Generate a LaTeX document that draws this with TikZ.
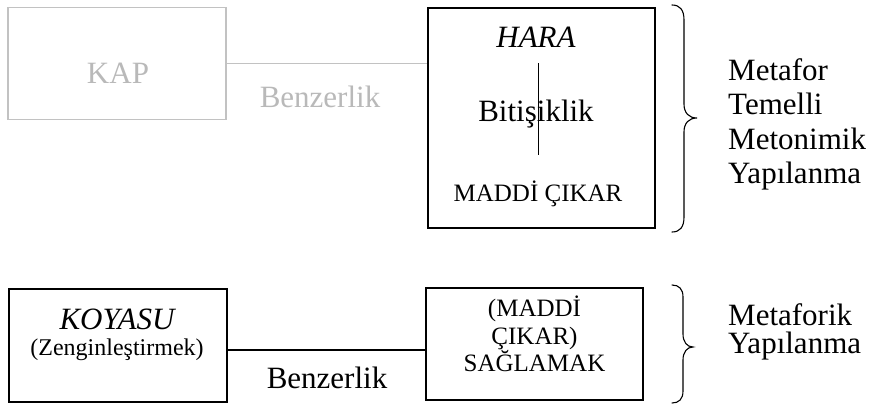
\documentclass[tikz,border=0pt]{standalone}
\usepackage{fontspec}
\setmainfont{Liberation Serif}
\begin{document}
\begin{tikzpicture}[x=1pt,y=-1pt,
  box/.style={draw=black,line width=1.1pt,inner sep=0pt,minimum width=#1},
  faint/.style={draw=gray!48,line width=1.1pt},
  big/.style={font=\fontsize{31}{35.6}\selectfont,inner sep=0pt,anchor=base},
  small/.style={font=\fontsize{25}{28.8}\selectfont,inner sep=0pt,anchor=base},
  side/.style={font=\fontsize{31}{35.6}\selectfont,inner sep=0pt,anchor=base west},
  brace/.style={draw=black,line width=1.1pt,line cap=round}]
\useasboundingbox (0,0) rectangle (873,405);

% --- upper row: KAP (faded) and HARA ---
\node[box=218pt,faint,minimum height=112pt] (kap) at (117,63.5) {};
\node[big,text=gray!55] (kaptxt) at (118,83) {KAP};
\node[box=227pt,minimum height=220pt] (hara) at (541.5,118) {};
\draw[faint] (kap.east) -- (kap.east -| hara.west);
\node[big,text=gray!55] (benz1) at (320,107) {Benzerlik};
\node[big,font=\fontsize{31}{35.6}\selectfont\itshape] (haratxt) at (536,47) {HARA};
\node[big] (bitis) at (536,121) {Bitişiklik};
\node[small] (maddi) at (538,201) {MADDİ ÇIKAR};
\coordinate (cutT) at (538.5,63);
\coordinate (cutB) at (538.5,155);
\draw[line width=1.1pt] (cutT) -- (cutB);

% brace and label of the upper row
\draw[brace] (672,5) .. controls (680,5) and (684,10) .. (684,20)
  -- (684,104) .. controls (684,113) and (689,118) .. (697,118)
  .. controls (689,118) and (684,123) .. (684,132)
  -- (684,217) .. controls (684,227) and (680,232) .. (672,232);
\node[side] (l1) at (728,80) {Metafor};
\node[side] (l2) at (728,114.5) {Temelli};
\node[side] (l3) at (728,149) {Metonimik};
\node[side] (l4) at (728,183.5) {Yapılanma};

% --- lower row: KOYASU and (MADDİ ÇIKAR) SAĞLAMAK ---
\node[box=218pt,minimum height=113pt] (koyasu) at (118,345.5) {};
\node[big,font=\fontsize{31}{35.6}\selectfont\itshape] (koytxt) at (117,329) {KOYASU};
\node[small,font=\fontsize{24}{27.6}\selectfont] (zeng) at (117,355) {(Zenginleştirmek)};
\node[box=217pt,minimum height=112pt] (sagla) at (534.5,344) {};
\node[small] (s1) at (534.5,316) {(MADDİ};
\node[small] (s2) at (534.5,344) {ÇIKAR)};
\node[small] (s3) at (534.5,371) {SAĞLAMAK};
\draw[line width=1.1pt] ([yshift=-4.5pt]koyasu.east) -- ([yshift=-4.5pt]koyasu.east -| sagla.west);
\node[big] (benz2) at (327,388) {Benzerlik};

% brace and label of the lower row
\draw[brace] (672,285) .. controls (679,285) and (683,289) .. (683,297)
  -- (683,334) .. controls (683,342) and (687,347) .. (693,347)
  .. controls (687,347) and (683,352) .. (683,360)
  -- (683,391) .. controls (683,399) and (679,403) .. (672,403);
\node[side] (m1) at (728,325) {Metaforik};
\node[side] (m2) at (728,353) {Yapılanma};
\end{tikzpicture}
\end{document}
